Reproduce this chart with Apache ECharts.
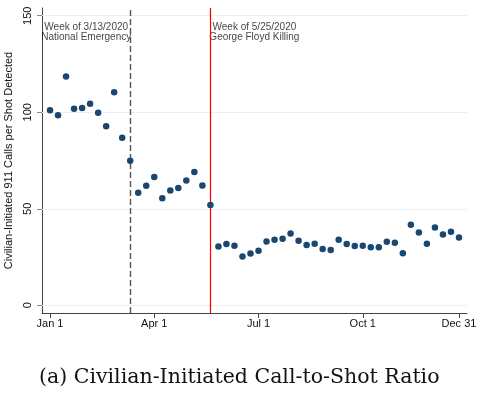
<!DOCTYPE html>
<html>
<head>
<meta charset="utf-8">
<script src="https://cdn.jsdelivr.net/npm/echarts@6/dist/echarts.min.js"></script>
<style>
html,body{margin:0;padding:0;background:#fff;}
#chart{width:486px;height:393px;}
</style>
</head>
<body>
<div id="chart"></div>
<script>
// Week number of 2020 (1..52)
var weeks = [];
for (var w = 1; w <= 52; w++) weeks.push(w);
// Civilian-initiated 911 calls per shot detected, weekly
var ratio = [101.0, 98.5, 118.5, 101.8, 102.2, 104.4, 99.7, 92.8, 110.3, 86.8,
             74.9, 58.3, 61.9, 66.4, 55.5, 59.5, 60.7, 64.7, 69.0, 62.1,
             51.9, 30.5, 31.7, 30.8, 25.3, 26.8, 28.2, 33.1, 33.9, 34.5,
             37.2, 33.4, 31.2, 31.9, 29.1, 28.6, 33.9, 31.7, 30.7, 30.8,
             30.1, 30.0, 32.9, 32.4, 27.0, 41.7, 37.7, 31.9, 40.3, 36.7,
             38.1, 35.1];
var xTickWeeks = [1, 14, 27, 40, 52];
var xTickLabels = ['Jan 1', 'Apr 1', 'Jul 1', 'Oct 1', 'Dec 31'];
var yTicks = [0, 50, 100, 150];
var emergencyWeek = 11;
var floydWeek = 21;
var emergencyText = ['Week of 3/13/2020', 'National Emergency'];
var floydText = ['Week of 5/25/2020', 'George Floyd Killing'];
var yTitle = 'Civilian-Initiated 911 Calls per Shot Detected';
var caption = '(a) Civilian-Initiated Call-to-Shot Ratio';

var chart = echarts.init(document.getElementById('chart'), null, {renderer: 'canvas'});
var font = 'Arial, "Liberation Sans", sans-serif';
var option = {
  animation: false,
  backgroundColor: '#ffffff',
  grid: {left: 42, right: 19, top: 8, bottom: 80, containLabel: false, outerBoundsMode: 'none'},
  title: {
    text: caption,
    left: 34,
    top: 362,
    textStyle: {fontFamily: '"DejaVu Serif", "Liberation Serif", serif', fontSize: 20.5, fontWeight: 'normal', color: '#111'}
  },
  xAxis: {
    type: 'value', min: 0, max: 53,
    axisLine: {show: true, onZero: false, lineStyle: {color: '#444', width: 1}},
    axisTick: {show: true, length: 5, customValues: xTickWeeks, lineStyle: {color: '#444'}},
    axisLabel: {
      customValues: xTickWeeks,
      formatter: function (v) { var i = xTickWeeks.indexOf(v); return i >= 0 ? xTickLabels[i] : ''; },
      fontFamily: font, fontSize: 11, color: '#111', margin: 5
    },
    splitLine: {show: false}
  },
  yAxis: {
    type: 'value', min: -4, max: 154,
    name: yTitle, nameLocation: 'middle', nameGap: 24, nameRotate: 90,
    nameTextStyle: {fontFamily: font, fontSize: 11, color: '#111'},
    axisLine: {show: true, onZero: false, lineStyle: {color: '#444', width: 1}},
    axisTick: {show: true, length: 5, customValues: yTicks, lineStyle: {color: '#888'}},
    axisLabel: {customValues: yTicks, rotate: 90, fontFamily: font, fontSize: 11, color: '#111', margin: 9},
    splitLine: {show: false}
  },
  series: [
    {
      name: 'grid', type: 'line', data: [], silent: true,
      markLine: {
        silent: true, symbol: 'none', label: {show: false},
        lineStyle: {color: '#e9f0f2', type: 'solid', width: 1.2},
        data: yTicks.map(function (t) { return {yAxis: t}; })
      }
    },
    {
      name: 'events', type: 'line', data: [], silent: true,
      markLine: {
        silent: true, symbol: 'none', label: {show: false},
        data: [
          {xAxis: emergencyWeek, lineStyle: {color: '#555', type: [6, 3], width: 1.4}},
          {xAxis: floydWeek, lineStyle: {color: '#ff0000', type: 'solid', width: 1.2}}
        ]
      }
    },
    {
      name: 'ratio', type: 'scatter', symbol: 'circle', symbolSize: 6.5,
      itemStyle: {color: '#1a476f', opacity: 1},
      data: weeks.map(function (w, i) { return [w, ratio[i]]; }),
      z: 5
    },
    {
      name: 'annotations', type: 'scatter', symbolSize: 0, silent: true,
      data: [
        {value: [emergencyWeek, 141.5], label: {formatter: emergencyText.join('\n'), offset: [-44, 0]}},
        {value: [floydWeek, 141.5], label: {formatter: floydText.join('\n'), offset: [44, 0]}}
      ],
      label: {show: true, position: 'inside', align: 'center', verticalAlign: 'middle',
              fontFamily: font, fontSize: 10, lineHeight: 10.5, color: '#111'}
    }
  ]
};
chart.setOption(option);
</script>
</body>
</html>
